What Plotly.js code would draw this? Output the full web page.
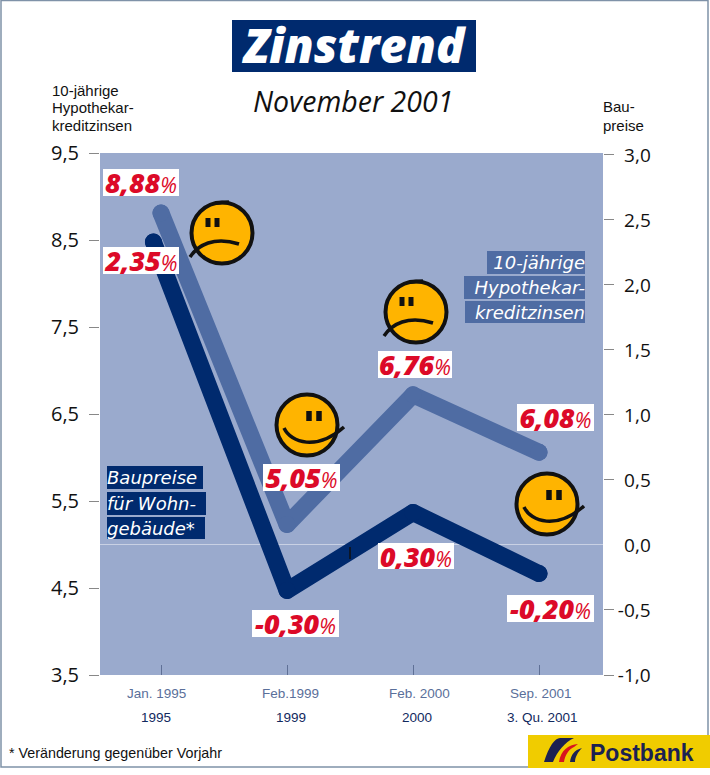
<!DOCTYPE html>
<html>
<head>
<meta charset="utf-8">
<script src="https://cdn.plot.ly/plotly-3.0.1.min.js"></script>
<style>
html,body{margin:0;padding:0;background:#fff}
.scatterlayer path.js-line{stroke-linejoin:round !important;stroke-linecap:round !important}
</style>
</head>
<body>
<div id="chart" style="width:710px;height:775px"></div>
<script>
// ---- data ----
const xTickIndex = [0, 1, 2, 3];
const monthLabels = ["Jan. 1995", "Feb.1999", "Feb. 2000", "Sep. 2001"];
const yearLabels = ["1995", "1999", "2000", "3. Qu. 2001"];
const rateX = [0, 1, 2, 3];
const rateValues = [8.81, 5.23, 6.72, 6.06];
const priceX = [-0.06, 1, 2, 3];
const priceValues = [2.33, -0.35, 0.25, -0.22];
const leftTicks = [3.5, 4.5, 5.5, 6.5, 7.5, 8.5, 9.5];
const rightTicks = [-1, -0.5, 0, 0.5, 1, 1.5, 2, 2.5, 3];
const rateLabels = ["8,88", "5,05", "6,76", "6,08"];
const priceLabels = ["2,35", "-0,30", "0,30", "-0,20"];

// ---- page geometry ----
const W = 710, H = 775, L = 100, R = 603, T = 153, B = 675;
const px = x => (x - L) / (R - L);
const py = y => (B - y) / (B - T);
const pth = s => s.replace(/(-?[\d.]+)[ ,](-?[\d.]+)/g, (m, a, b) => px(+a) + "," + py(+b));

const NAVY = "#002a6e", BLUE = "#4f6ca3", BG = "#9aaacd";
const FONT = "'Open Sans', sans-serif", SANS = "'Liberation Sans', sans-serif", WIDE = "'DejaVu Sans', sans-serif";

const annotations = [];
function text(t, x, y, o) {
  o = o || {};
  annotations.push(Object.assign({
    text: t, xref: "paper", yref: "paper", x: px(x), y: py(y),
    xanchor: o.anchor || "left", yanchor: "middle", showarrow: false,
    borderpad: 0, borderwidth: 0,
    font: Object.assign({family: FONT, size: 15, color: "#111"}, o.font || {})
  }, o.extra || {}));
}
function valueBox(v, x0, y0, x1, y1) {
  text(v + '<span style="font-size:21px;font-weight:400">%</span>', (x0 + x1) / 2, (y0 + y1) / 2, {
    anchor: "center",
    font: {size: 27, color: "#dc0a28", style: "italic", weight: 800},
    extra: {bgcolor: "#fff", width: x1 - x0, height: y1 - y0, align: "center", valign: "middle"}
  });
}
function labelBox(t, x0, y0, x1, y1, bg, align) {
  text(t, (x0 + x1) / 2, (y0 + y1) / 2, {
    anchor: "center",
    font: {family: WIDE, size: 18, color: "#fff", style: "italic"},
    extra: {bgcolor: bg, width: x1 - x0, height: y1 - y0, align: align, valign: "middle"}
  });
}

// title block
text("Zinstrend", 354, 45, {anchor: "center", font: {size: 47, color: "#fff", style: "italic", weight: 800}});
text("November 2001", 353, 101, {anchor: "center", font: {size: 28.5, color: "#111", style: "italic"}});

// axis captions
[["10-jährige", 90], ["Hypothekar-", 108], ["kreditzinsen", 125.5]].forEach(a =>
  text(a[0], 52, a[1], {font: {family: SANS, size: 15}}));
[["Bau-", 107], ["preise", 125.5]].forEach(a =>
  text(a[0], 603, a[1], {font: {family: SANS, size: 15}}));

// value labels
valueBox(rateLabels[0], 103, 169, 179, 196);
valueBox(rateLabels[1], 263, 464, 340, 491);
valueBox(rateLabels[2], 378, 351, 452, 378);
valueBox(rateLabels[3], 517, 404, 594, 431);
valueBox(priceLabels[0], 103, 247, 179, 274);
valueBox(priceLabels[1], 252, 610, 339, 637);
valueBox(priceLabels[2], 378, 543, 454, 569);
valueBox(priceLabels[3], 507, 595, 594, 622);

// series captions
labelBox("10-jährige", 487, 251, 585, 274, BLUE, "right");
labelBox("Hypothekar-", 464, 276, 585, 299, BLUE, "right");
labelBox("kreditzinsen", 465, 301, 585, 323, BLUE, "right");
labelBox("Baupreise", 107, 466, 203, 489, NAVY, "left");
labelBox("für Wohn-", 107, 492, 206, 515, NAVY, "left");
labelBox("gebäude*", 107, 517, 205, 539, NAVY, "left");

// two rows of x labels
const monthShift = [-5, 3, 6, 2], yearShift = [-5, 4, 4, 3];
monthLabels.forEach((t, i) => annotations.push({
  text: t, xref: "x", yref: "paper", x: xTickIndex[i], xshift: monthShift[i], y: py(693),
  xanchor: "center", yanchor: "middle", showarrow: false,
  font: {family: SANS, size: 13.5, color: "#5a6f9a"}
}));
yearLabels.forEach((t, i) => annotations.push({
  text: t, xref: "x", yref: "paper", x: xTickIndex[i], xshift: yearShift[i], y: py(717),
  xanchor: "center", yanchor: "middle", showarrow: false,
  font: {family: SANS, size: 13.5, color: "#12295e"}
}));

// footnote + logo word
text("* Veränderung gegenüber Vorjahr", 9, 753, {font: {family: SANS, size: 14.3}});
text("Postbank", 590, 753, {font: {family: SANS, size: 23, color: "#1b2152", weight: 700}});

// ---- decoration shapes ----
const shapes = [];
function rect(x0, y0, x1, y1, fill, line, lw) {
  shapes.push({type: "rect", xref: "paper", yref: "paper", x0: px(x0), x1: px(x1), y0: py(y0), y1: py(y1),
    fillcolor: fill || "rgba(0,0,0,0)", line: {color: line || "rgba(0,0,0,0)", width: lw || 0}});
}
function path(d, fill, line, lw) {
  shapes.push({type: "path", xref: "paper", yref: "paper", path: pth(d),
    fillcolor: fill || "rgba(0,0,0,0)", line: {color: line || "rgba(0,0,0,0)", width: lw || 0}});
}
function face(cx, cy, sad) {
  const k = 0.5523, r = 30.5;
  const p = (dx, dy) => (cx + dx) + "," + (cy + dy);
  path("M" + p(-r, 0) + " C" + p(-r, -k * r) + " " + p(-k * r, -r) + " " + p(0, -r) +
       " C" + p(k * r, -r) + " " + p(r, -k * r) + " " + p(r, 0) +
       " C" + p(r, k * r) + " " + p(k * r, r) + " " + p(0, r) +
       " C" + p(-k * r, r) + " " + p(-r, k * r) + " " + p(-r, 0) + " Z", "#ffb400", "#111", 4);
  if (sad) {
    path("M" + p(-32, 24) + " C" + p(-24, 12) + " " + p(-8, 3) + " " + p(17, 11), null, "#111", 3.5);
    path("M" + p(-14, -15) + " L" + p(-14, -6), null, "#111", 5);
    path("M" + p(-5, -15) + " L" + p(-5, -6), null, "#111", 5);
    path("M" + p(-6, -30) + " L" + p(7, -31), null, "#111", 3.5);
  } else {
    path("M" + p(-23, 3) + " C" + p(-16, 18) + " " + p(10, 26) + " " + p(37, 2), null, "#111", 3.5);
    path("M" + p(2, -14) + " L" + p(2, -4), null, "#111", 5.5);
    path("M" + p(12, -14) + " L" + p(12, -4), null, "#111", 5.5);
  }
}
face(222, 233, true);
face(416, 312, true);
face(307, 425, false);
face(547, 504, false);

// title box sits below its text because annotations draw above shapes
rect(232, 20, 476, 72, NAVY);
// frame
rect(1, 0.5, 708, 767, null, "#7f92a8", 1.5);
// logo
rect(528, 735, 710, 768, "#f0cc00");
path("M544,762 C549,746 555,738 560,738 L574,738 C565,742 557,752 553,762 Z", "#1b2152");
path("M559,762 C561,750 568,745 578,744 L574,747 C569,749 565,755 564,762 Z", "#d8141e");
path("M570,762 C571,755 574,750 582,748 C578,752 575,757 575,762 Z", "#1b2152");
// missing zero tick on the right axis, stray mark in the source
rect(603.5, 542, 616, 548, "#fff");
path("M350,547 L350,559", null, "#111", 1.5);

// ---- traces ----
const traces = [
  {x: priceX, y: priceValues, xaxis: "x", yaxis: "y2", mode: "lines+markers", hoverinfo: "skip",
   line: {color: NAVY, width: 17}, marker: {color: NAVY, size: 17}, cliponaxis: false},
  {x: rateX, y: rateValues, xaxis: "x", yaxis: "y", mode: "lines+markers", hoverinfo: "skip",
   line: {color: BLUE, width: 17}, marker: {color: BLUE, size: 17}, cliponaxis: false}
];

const layout = {
  width: W, height: H, autosize: false, showlegend: false, separators: ", ",
  paper_bgcolor: "#fff", plot_bgcolor: BG,
  margin: {l: L, r: W - R, t: T, b: H - B, pad: 0},
  font: {family: FONT, color: "#111"},
  xaxis: {
    range: [(L - 161) / 126, (R - 161) / 126], tickmode: "array", tickvals: xTickIndex,
    showticklabels: false,
    ticks: "inside", ticklen: 10, tickwidth: 1, tickcolor: "#5f7096", showgrid: false, zeroline: false,
    showline: false
  },
  yaxis: {
    range: [3.5, 9.5], tickmode: "array", tickvals: leftTicks, tickformat: ".1f",
    ticks: "outside", ticklen: 10, tickwidth: 1, tickcolor: "#888", showgrid: false, zeroline: false,
    ticklabelstandoff: 6, tickfont: {family: FONT, size: 20, color: "#111"}, showline: false
  },
  yaxis2: {
    overlaying: "y", side: "right", range: [-1, 3.015], tickmode: "array", tickvals: rightTicks,
    ticktext: rightTicks.map(v => (v < 0 ? "" : "\u2004") + v.toFixed(1).replace(".", ",")),
    ticks: "outside", ticklen: 10, tickwidth: 1, tickcolor: "#888", showgrid: false,
    zeroline: true, zerolinecolor: "#c9d1e4", zerolinewidth: 1,
    ticklabelstandoff: 0, tickfont: {family: FONT, size: 19, color: "#111"}, showline: false
  },
  shapes: shapes,
  annotations: annotations
};

Plotly.newPlot("chart", traces, layout, {displayModeBar: false, responsive: false});
</script>
</body>
</html>
